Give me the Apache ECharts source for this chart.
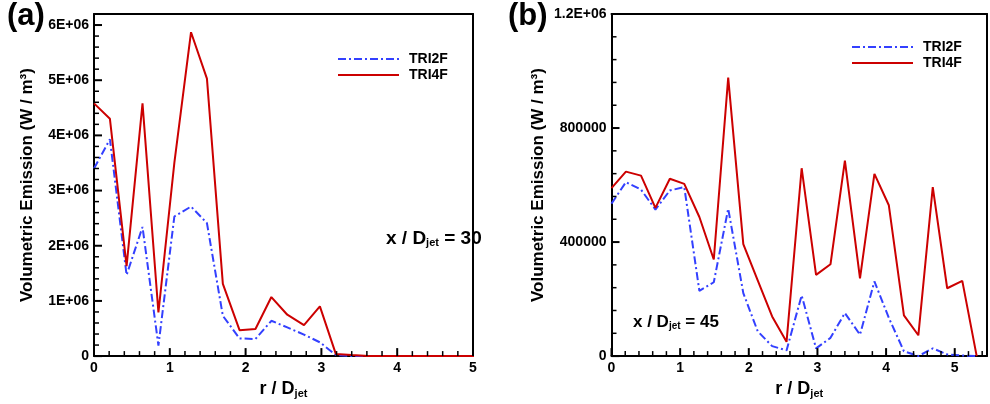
<!DOCTYPE html>
<html>
<head>
<meta charset="utf-8">
<script src="https://cdn.jsdelivr.net/npm/echarts@6/dist/echarts.min.js"></script>
<style>
  html, body { margin: 0; padding: 0; background: #fff; }
  #chart { width: 990px; height: 404px; }
</style>
</head>
<body>
<div id="chart"></div>
<script>
const FONT = '"Liberation Sans", Arial, Helvetica, sans-serif'

// radial stations r / D_jet (same grid for both panels)
const radius = [0, 0.21, 0.43, 0.64, 0.85, 1.06, 1.28, 1.49, 1.70, 1.92, 2.13, 2.34, 2.55,
  2.77, 2.98, 3.19, 3.40, 3.62, 3.83, 4.04, 4.26, 4.47, 4.68, 4.89, 5.11, 5.32]

// (a) x / D_jet = 30, W / m3
const tri2f30 = [3.40e6, 3.93e6, 1.47e6, 2.34e6, 0.19e6, 2.53e6, 2.71e6, 2.41e6, 0.73e6, 0.32e6,
  0.31e6, 0.64e6, 0.52e6, 0.39e6, 0.25e6, 0.02e6, 0, 0, 0, 0, 0, 0, 0, 0, 0, 0]
const tri4f30 = [4.58e6, 4.30e6, 1.63e6, 4.58e6, 0.79e6, 3.50e6, 5.87e6, 5.03e6, 1.31e6, 0.47e6,
  0.49e6, 1.07e6, 0.75e6, 0.56e6, 0.90e6, 0.04e6, 0.02e6, 0, 0, 0, 0, 0, 0, 0, 0, 0]

// (b) x / D_jet = 45, W / m3
const tri2f45 = [535000, 610000, 584000, 514000, 581000, 593000, 229000, 259000, 517000, 221000,
  87000, 35000, 20000, 213000, 27000, 64000, 151000, 75000, 262000, 134000, 17000, 0, 27000,
  6000, 2000, 0]
const tri4f45 = [589000, 647000, 633000, 520000, 622000, 604000, 488000, 339000, 977000, 393000,
  266000, 139000, 50000, 659000, 285000, 322000, 686000, 273000, 639000, 529000, 143000, 73000,
  593000, 238000, 264000, 0]

const xLabels = ['0', '1', '2', '3', '4', '5']
const leftYLabels = ['0', '1E+06', '2E+06', '3E+06', '4E+06', '5E+06', '6E+06']
const rightYLabels = ['0', '400000', '800000', '1.2E+06']

const BLUE = '#3340ff'
const RED = '#cc0000'
const DASH_DOT = [8, 3, 2, 3]

const pairs = (vals) => vals.map((v, i) => [radius[i], v])

const labelFrom = (labels, step) => (v) => {
  const i = Math.round(v / step)
  return Math.abs(v - i * step) < step * 1e-6 && labels[i] !== undefined ? labels[i] : ''
}

const subRich = (size, pad) => ({
  sub: { fontSize: size, fontWeight: 'bold', fontFamily: FONT, color: '#000', padding: [pad, 0, 0, 0] }
})

// axis with the line, labels and title
function labelAxis (grid, min, max, interval, formatter, extra) {
  return Object.assign({
    type: 'value',
    gridIndex: grid,
    min: min,
    max: max,
    interval: interval,
    axisLine: { show: true, onZero: false, lineStyle: { color: '#000', width: 2 } },
    axisTick: { show: false },
    axisLabel: {
      show: true, margin: 5, color: '#000', fontSize: 14, fontWeight: 'bold', fontFamily: FONT,
      formatter: formatter
    },
    splitLine: { show: false }
  }, extra)
}

// plain frame line on the top / right side
function frameAxis (grid, dim, min, max) {
  return {
    type: 'value',
    gridIndex: grid,
    position: dim === 'x' ? 'top' : 'right',
    min: min,
    max: max,
    axisLine: { show: true, onZero: false, lineStyle: { color: '#000', width: 2 } },
    axisTick: { show: false },
    axisLabel: { show: false },
    splitLine: { show: false }
  }
}

const xName = {
  name: 'r / D{sub|jet}',
  nameLocation: 'middle',
  nameGap: 19,
  nameTextStyle: { color: '#000', fontSize: 18, fontWeight: 'bold', fontFamily: FONT, rich: subRich(11, 9) }
}

const yName = (gap) => ({
  name: 'Volumetric Emission (W / m³)',
  nameLocation: 'middle',
  nameGap: gap,
  nameTextStyle: { color: '#000', fontSize: 17, fontWeight: 'bold', fontFamily: FONT }
})

const lineSeries = (name, data, xi, yi, color, dash) => ({
  name: name,
  type: 'line',
  xAxisIndex: xi,
  yAxisIndex: yi,
  data: data,
  symbol: 'none',
  animation: false,
  lineStyle: { color: color, width: 2, type: dash },
  itemStyle: { color: color },
  z: dash === 'solid' ? 3 : 2
})

const legendBase = {
  orient: 'vertical',
  itemWidth: 61,
  itemHeight: 14,
  itemGap: 2,
  padding: 0,
  selectedMode: false,
  data: ['TRI2F', 'TRI4F'],
  itemStyle: { opacity: 0 },
  textStyle: { color: '#000', fontSize: 14, fontWeight: 'bold', fontFamily: FONT, padding: [0, 0, 0, 5] }
}

const labels = [
  { type: 'text', left: 7, top: 1, style: { text: '(a)', font: 'bold 31px ' + FONT, fill: '#000' } },
  { type: 'text', left: 508, top: 1, style: { text: '(b)', font: 'bold 31px ' + FONT, fill: '#000' } },
  {
    type: 'text', left: 386, top: 229,
    style: { text: 'x / D{sub|jet} = 30', font: 'bold 19px ' + FONT, fill: '#000', rich: subRich(11, 9) }
  },
  {
    type: 'text', left: 633, top: 314,
    style: { text: 'x / D{sub|jet} = 45', font: 'bold 17px ' + FONT, fill: '#000', rich: subRich(10, 8) }
  }
]

const option = {
  backgroundColor: '#fff',
  animation: false,
  grid: [
    { left: 94, top: 14, width: 379, height: 344.5, show: false },
    { left: 611.5, top: 14, width: 377, height: 344.5, show: false }
  ],
  xAxis: [
    labelAxis(0, 0, 5, 1, labelFrom(xLabels, 1), Object.assign({ position: 'bottom' }, xName)),
    frameAxis(0, 'x', 0, 5),
    labelAxis(1, 0, 5.47, 1, labelFrom(xLabels, 1), Object.assign({ position: 'bottom' }, xName)),
    frameAxis(1, 'x', 0, 5.47)
  ],
  yAxis: [
    labelAxis(0, 0, 6.2e6, 1e6, labelFrom(leftYLabels, 1e6), Object.assign({ position: 'left' }, yName(58))),
    frameAxis(0, 'y', 0, 6.2e6),
    labelAxis(1, 0, 1.2e6, 400000, labelFrom(rightYLabels, 400000), Object.assign({ position: 'left' }, yName(65))),
    frameAxis(1, 'y', 0, 1.2e6)
  ],
  legend: [
    Object.assign({ left: 337, top: 52 }, legendBase),
    Object.assign({ left: 851, top: 40 }, legendBase)
  ],
  graphic: labels,
  series: [
    lineSeries('TRI2F', pairs(tri2f30), 0, 0, BLUE, DASH_DOT),
    lineSeries('TRI4F', pairs(tri4f30), 0, 0, RED, 'solid'),
    lineSeries('TRI2F', pairs(tri2f45), 2, 2, BLUE, DASH_DOT),
    lineSeries('TRI4F', pairs(tri4f45), 2, 2, RED, 'solid')
  ]
}

const myChart = echarts.init(document.getElementById('chart'))
myChart.setOption(option)

// inward Tecplot-style ticks, placed through the axes' own scales
function ticks (axisIdx, xMax, xMinor, yMax, yMajor, yMinor) {
  const finder = { xAxisIndex: axisIdx, yAxisIndex: axisIdx }
  const out = []
  const seg = (x1, y1, x2, y2, w) => out.push({
    type: 'line', z: 50, silent: true,
    shape: { x1: x1, y1: y1, x2: x2, y2: y2 },
    style: { stroke: '#000', lineWidth: w }
  })
  for (let i = 0; i * xMinor <= xMax + 1e-9; i++) {
    const v = i * xMinor
    const major = Math.abs(v - Math.round(v)) < 1e-6
    const p = myChart.convertToPixel(finder, [v, 0])
    seg(p[0], p[1], p[0], p[1] - (major ? 8 : 5), major ? 2 : 1.5)
  }
  for (let i = 0; i * yMinor <= yMax + 1e-3; i++) {
    const v = i * yMinor
    const major = Math.abs(v / yMajor - Math.round(v / yMajor)) < 1e-6
    const p = myChart.convertToPixel(finder, [0, v])
    seg(p[0], p[1], p[0] + (major ? 8 : 5), p[1], major ? 2 : 1.5)
  }
  return out
}

myChart.setOption({
  graphic: labels.concat(ticks(0, 5, 0.2, 6.2e6, 1e6, 0.2e6), ticks(2, 5.4, 0.2, 1.2e6, 400000, 80000))
})
</script>
</body>
</html>
